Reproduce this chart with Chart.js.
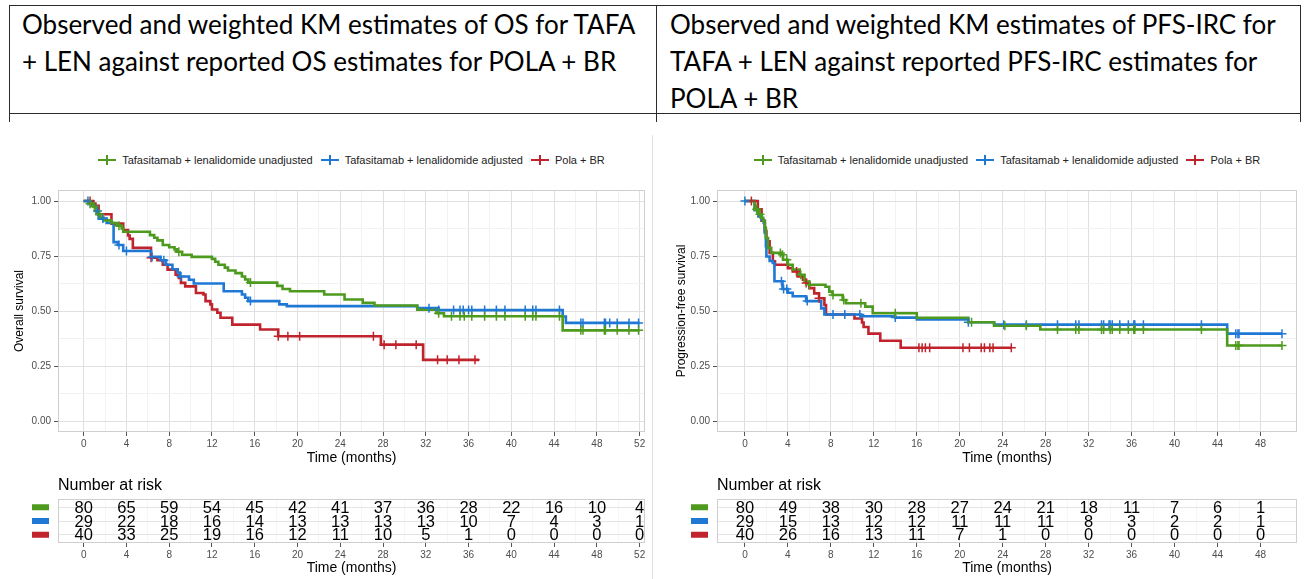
<!DOCTYPE html>
<html>
<head>
<meta charset="utf-8">
<script src="https://cdn.jsdelivr.net/npm/chart.js@4.4.0/dist/chart.umd.min.js"></script>
<style>
  body { margin: 0; width: 1309px; height: 579px; background: #fff; position: relative; overflow: hidden;
         font-family: "Liberation Sans", Arial, sans-serif; }
  .ln { position: absolute; background: #2b2b2b; }
  .hd { position: absolute; top: 6px; font-family: Lato, "Open Sans", sans-serif; font-size: 26px;
        line-height: 37px; color: #000; white-space: nowrap; }
  canvas { position: absolute; }
  .legend { position: absolute; top: 153px; height: 14px; display: flex; justify-content: center;
            align-items: center; font-size: 11px; color: #222; white-space: nowrap; }
  .legend .item { display: flex; align-items: center; margin: 0 4px; }
  .legend .key { position: relative; width: 18px; height: 12px; margin-right: 6px; }
  .legend .key i { position: absolute; display: block; }
  .sep { position: absolute; left: 652px; top: 135px; width: 1px; height: 444px; background: #e2e2e2; }
</style>
</head>
<body>
<!-- header table -->
<div class="ln" style="left:9px;top:5px;width:1292px;height:1px"></div>
<div class="ln" style="left:9px;top:113px;width:1292px;height:1px"></div>
<div class="ln" style="left:9px;top:5px;width:1px;height:117px"></div>
<div class="ln" style="left:656px;top:5px;width:1px;height:117px"></div>
<div class="ln" style="left:1300px;top:5px;width:1px;height:117px"></div>
<div class="hd" style="left:22px">Observed and weighted KM estimates of OS for TAFA<br>+ LEN against reported OS estimates for POLA + BR</div>
<div class="hd" style="left:670px">Observed and weighted KM estimates of PFS-IRC for<br>TAFA + LEN against reported PFS-IRC estimates for<br>POLA + BR</div>
<div class="sep"></div>

<div class="legend" id="legendOS" style="left:58px;width:587px"></div>
<div class="legend" id="legendPFS" style="left:717px;width:580px"></div>

<canvas id="osChart" width="652" height="330" style="left:0;top:140px"></canvas>
<canvas id="osRisk" width="652" height="107" style="left:0;top:472px"></canvas>
<canvas id="pfsChart" width="645" height="330" style="left:660px;top:140px"></canvas>
<canvas id="pfsRisk" width="645" height="107" style="left:660px;top:472px"></canvas>

<script>
// series names and colours
const seriesNames = ['Tafasitamab + lenalidomide unadjusted', 'Tafasitamab + lenalidomide adjusted', 'Pola + BR'];
const seriesColors = ['#4e9a1e', '#1f78d4', '#c0232c'];

// ---- OS (left) ----
const osTimeUnadj = [0, 0.6, 0.9, 1.1, 1.2, 1.55, 1.85, 2.6, 3.1, 3.55, 3.7, 6.2, 6.6, 6.9, 7.4, 8.0, 8.5, 8.7, 9.2, 10.1, 12.0, 12.3, 12.6, 13.2, 13.5, 14.2, 14.8, 15.1, 15.4, 18.1, 18.6, 19.3, 22.5, 24.4, 26.1, 27.2, 31.2, 33.0, 33.7, 44.8, 52.0];
const osSurvUnadj = [1, 0.988, 0.975, 0.96, 0.94, 0.925, 0.912, 0.9, 0.888, 0.875, 0.86, 0.845, 0.833, 0.821, 0.8, 0.79, 0.78, 0.769, 0.756, 0.746, 0.737, 0.724, 0.71, 0.697, 0.684, 0.672, 0.657, 0.643, 0.629, 0.614, 0.6, 0.59, 0.575, 0.552, 0.537, 0.525, 0.506, 0.49, 0.476, 0.412, 0.412];
const osCensorUnadj = [0.6, 1.0, 1.5, 3.3, 8.9, 15.6, 33.2, 34.4, 35.2, 35.6, 36.3, 37.5, 38.6, 39.4, 41.3, 42.0, 42.3, 44.5, 46.5, 46.7, 48.7, 48.8, 49.9, 51.0, 51.9];

const osTimeAdj = [0, 0.5, 0.8, 1.1, 1.4, 2.15, 2.8, 3.2, 3.7, 6.3, 7.2, 7.7, 8.3, 8.8, 9.0, 9.85, 10.3, 13.1, 14.8, 15.1, 15.4, 18.3, 19.0, 31.2, 33.2, 44.8, 45.1, 52.0];
const osSurvAdj = [1, 0.99, 0.978, 0.955, 0.92, 0.9, 0.813, 0.8, 0.773, 0.746, 0.731, 0.71, 0.69, 0.675, 0.657, 0.642, 0.625, 0.59, 0.575, 0.56, 0.545, 0.53, 0.522, 0.513, 0.504, 0.475, 0.446, 0.446];
const osCensorAdj = [0.4, 1.3, 1.8, 3.3, 4.0, 6.4, 7.5, 9.1, 15.6, 32.3, 33.2, 34.6, 35.2, 35.5, 36.0, 36.3, 37.5, 38.6, 39.4, 41.3, 42.0, 42.3, 44.5, 46.5, 46.7, 48.7, 48.8, 49.2, 49.9, 51.0, 51.9];

const osTimePola = [0, 0.9, 1.1, 1.4, 2.6, 3.7, 4.15, 4.3, 4.6, 6.3, 6.9, 7.4, 7.85, 8.6, 8.9, 9.1, 9.5, 10.5, 11.2, 11.4, 11.85, 12.0, 12.5, 12.8, 13.9, 16.5, 18.2, 27.8, 31.75, 37.0];
const osSurvPola = [1, 0.988, 0.978, 0.94, 0.897, 0.868, 0.843, 0.828, 0.787, 0.742, 0.731, 0.71, 0.688, 0.665, 0.65, 0.628, 0.612, 0.582, 0.575, 0.545, 0.53, 0.507, 0.492, 0.469, 0.438, 0.416, 0.385, 0.347, 0.278, 0.278];
const osCensorPola = [0.6, 6.3, 18.2, 19.1, 20.2, 27.1, 28.1, 29.2, 31.1, 33.1, 34.0, 35.1, 36.6];

const osXTicks = [0, 4, 8, 12, 16, 20, 24, 28, 32, 36, 40, 44, 48, 52];
const osRiskUnadj = [80, 65, 59, 54, 45, 42, 41, 37, 36, 28, 22, 16, 10, 4];
const osRiskAdj = [29, 22, 18, 16, 14, 13, 13, 13, 13, 10, 7, 4, 3, 1];
const osRiskPola = [40, 33, 25, 19, 16, 12, 11, 10, 5, 1, 0, 0, 0, 0];

// ---- PFS-IRC (right) ----
const pfsTimeUnadj = [0, 0.9, 1.25, 1.55, 1.7, 1.85, 1.95, 2.15, 2.45, 3.4, 3.55, 4.0, 4.45, 5.1, 5.55, 6.0, 7.5, 7.85, 8.15, 9.1, 9.4, 11.2, 11.9, 16.0, 20.8, 23.2, 27.5, 44.9, 50.0];
const pfsSurvUnadj = [1, 0.962, 0.94, 0.924, 0.909, 0.878, 0.832, 0.787, 0.764, 0.756, 0.733, 0.71, 0.688, 0.665, 0.634, 0.619, 0.61, 0.588, 0.573, 0.55, 0.535, 0.52, 0.49, 0.469, 0.449, 0.433, 0.416, 0.343, 0.343];
const pfsCensorUnadj = [1.1, 1.4, 3.3, 3.5, 3.9, 5.2, 6.0, 8.2, 9.2, 10.8, 14.0, 21.1, 24.2, 26.2, 29.1, 30.8, 31.1, 33.2, 33.4, 34.0, 34.2, 34.9, 35.7, 36.2, 36.3, 37.1, 42.5, 45.7, 45.9, 46.0, 50.0];

const pfsTimeAdj = [0, 0.9, 1.25, 1.55, 1.75, 1.85, 1.95, 2.0, 2.3, 2.6, 2.75, 3.5, 4.0, 4.45, 5.7, 7.1, 7.4, 10.8, 14.0, 16.0, 20.8, 23.2, 44.9, 50.0];
const pfsSurvAdj = [1, 0.958, 0.93, 0.915, 0.9, 0.855, 0.795, 0.748, 0.727, 0.718, 0.635, 0.6, 0.583, 0.567, 0.545, 0.512, 0.484, 0.476, 0.47, 0.462, 0.449, 0.438, 0.397, 0.397];
const pfsCensorAdj = [0, 3.4, 3.6, 3.9, 5.8, 8.2, 9.3, 10.7, 14.0, 20.8, 24.1, 26.2, 29.1, 30.8, 31.1, 33.2, 33.4, 33.9, 34.0, 34.2, 34.9, 35.7, 36.2, 36.3, 37.1, 42.5, 45.7, 45.9, 46.0, 50.0];

const pfsTimePola = [0, 1.2, 1.55, 1.85, 2.0, 2.3, 2.6, 2.8, 4.0, 4.45, 4.9, 5.4, 5.7, 6.0, 6.45, 6.9, 7.4, 7.55, 10.2, 10.9, 11.05, 11.5, 12.6, 14.5, 24.8];
const pfsSurvPola = [1, 0.962, 0.91, 0.863, 0.817, 0.764, 0.726, 0.71, 0.695, 0.68, 0.657, 0.642, 0.627, 0.604, 0.58, 0.558, 0.527, 0.484, 0.466, 0.448, 0.427, 0.397, 0.365, 0.333, 0.333];
const pfsCensorPola = [0.6, 4.8, 5.7, 6.9, 16.2, 16.5, 16.8, 17.2, 20.3, 20.9, 22.0, 22.3, 22.8, 23.1, 24.8];

const pfsXTicks = [0, 4, 8, 12, 16, 20, 24, 28, 32, 36, 40, 44, 48];
const pfsRiskUnadj = [80, 49, 38, 30, 28, 27, 24, 21, 18, 11, 7, 6, 1];
const pfsRiskAdj = [29, 15, 13, 12, 12, 11, 11, 11, 8, 3, 2, 2, 1];
const pfsRiskPola = [40, 26, 16, 13, 11, 7, 1, 0, 0, 0, 0, 0, 0];

const yTicks = [0, 0.25, 0.5, 0.75, 1];

Chart.defaults.font.family = "'Liberation Sans', Arial, sans-serif";
Chart.defaults.animation = false;

// value of a KM step curve at time t
function survAt(times, surv, t) {
    let s = surv[0];
    for (let i = 0; i < times.length; i++) {
        if (times[i] <= t) s = surv[i];
    }
    return s;
}

// majors plus the half-way minors (ggplot style grid)
function withMinors(majors) {
    const out = [];
    majors.forEach((v, i) => {
        out.push(v);
        if (i < majors.length - 1) out.push((v + majors[i + 1]) / 2);
    });
    return out;
}

const panelBorder = {
    id: 'panelBorder',
    afterDraw(chart) {
        const a = chart.chartArea, ctx = chart.ctx;
        ctx.save();
        ctx.strokeStyle = '#cfcfcf';
        ctx.lineWidth = 1;
        ctx.strokeRect(a.left + 0.5, a.top + 0.5, a.right - a.left - 1, a.bottom - a.top - 1);
        ctx.restore();
    }
};

function xScale(ticksArr, min, max, gridMajor, gridMinor, titlePad) {
    const all = withMinors(ticksArr);
    return {
        type: 'linear', min: min, max: max,
        afterBuildTicks: s => { s.ticks = all.map(v => ({ value: v })); },
        ticks: {
            autoSkip: false, maxRotation: 0, padding: 2, color: '#4d4d4d', font: { size: 10 },
            callback: v => ticksArr.includes(v) ? String(v) : ''
        },
        grid: {
            color: c => (c.tick && ticksArr.includes(c.tick.value)) ? gridMajor : gridMinor,
            tickColor: c => (c.tick && ticksArr.includes(c.tick.value)) ? '#555' : 'rgba(0,0,0,0)',
            tickLength: 4
        },
        border: { display: false },
        title: { display: true, text: 'Time (months)', color: '#000', font: { size: 14 }, padding: { top: 0, bottom: titlePad } }
    };
}

function buildKm(id, curves, xTicks, xMin, xMax, yWidth, yTitle, yTitlePad, padRight) {
    const datasets = [];
    curves.forEach((c, k) => {
        datasets.push({
            data: c.times.map((t, i) => ({ x: t, y: c.surv[i] })),
            showLine: true, stepped: 'before', borderColor: seriesColors[k], borderWidth: 2.6,
            pointRadius: 0, order: 2 + k
        });
    });
    curves.forEach((c, k) => {
        datasets.push({
            data: c.censor.map(t => ({ x: t, y: survAt(c.times, c.surv, t) })),
            pointStyle: 'cross', pointRadius: 4.5, borderColor: seriesColors[k], borderWidth: 1.5,
            order: 1
        });
    });
    const yAll = withMinors(yTicks);
    return new Chart(document.getElementById(id), {
        type: 'scatter',
        data: { datasets: datasets },
        options: {
            responsive: false,
            animation: false,
            events: [],
            layout: { padding: { top: 50, right: padRight, left: 0, bottom: 0 } },
            plugins: { legend: { display: false }, tooltip: { enabled: false } },
            scales: {
                x: Object.assign(xScale(xTicks, xMin, xMax, '#e0e0e0', '#f2f2f2', 3), {
                    afterFit: s => { s.height = 38; }
                }),
                y: {
                    type: 'linear', min: -0.05, max: 1.05,
                    afterBuildTicks: s => { s.ticks = yAll.map(v => ({ value: v })); },
                    afterFit: s => { s.width = yWidth; },
                    ticks: {
                        autoSkip: false, padding: 3, color: '#4d4d4d', font: { size: 10 },
                        callback: v => yTicks.includes(v) ? v.toFixed(2) : ''
                    },
                    grid: {
                        color: c => (c.tick && yTicks.includes(c.tick.value)) ? '#e0e0e0' : '#f2f2f2',
                        tickColor: c => (c.tick && yTicks.includes(c.tick.value)) ? '#555' : 'rgba(0,0,0,0)',
                        tickLength: 4
                    },
                    border: { display: false },
                    title: { display: true, text: yTitle, color: '#000', font: { size: 12 }, padding: { top: yTitlePad, bottom: 0 } }
                }
            }
        },
        plugins: [panelBorder]
    });
}

// numbers at risk + coloured row keys + heading
const riskText = {
    id: 'riskText',
    afterDatasetsDraw(chart) {
        const ctx = chart.ctx, a = chart.chartArea;
        ctx.save();
        ctx.fillStyle = '#000';
        ctx.font = "16px 'Liberation Sans', Arial, sans-serif";
        ctx.textAlign = 'left';
        ctx.textBaseline = 'middle';
        ctx.fillText('Number at risk', a.left, a.top - 13);
        ctx.font = "16.5px 'Liberation Sans', Arial, sans-serif";
        ctx.textAlign = 'center';
        chart.data.datasets.forEach((ds, i) => {
            const meta = chart.getDatasetMeta(i);
            meta.data.forEach((el, j) => {
                ctx.fillStyle = '#000';
                ctx.fillText(String(ds.counts[j]), el.x, el.y + 1);
            });
            const yPix = chart.scales.y.getPixelForValue(ds.row);
            ctx.fillStyle = seriesColors[i];
            ctx.fillRect(a.left - 26, yPix - 3, 17, 6);
        });
        ctx.restore();
    }
};

function buildRisk(id, rows, xTicks, xMin, xMax, yWidth, padRight) {
    const rowPos = [3, 2, 1];
    const datasets = rows.map((counts, k) => ({
        data: xTicks.map(t => ({ x: t, y: rowPos[k] })),
        counts: counts, row: rowPos[k], pointRadius: 0
    }));
    return new Chart(document.getElementById(id), {
        type: 'scatter',
        data: { datasets: datasets },
        options: {
            responsive: false,
            animation: false,
            events: [],
            layout: { padding: { top: 27, right: padRight, left: 0, bottom: 0 } },
            plugins: { legend: { display: false }, tooltip: { enabled: false } },
            scales: {
                x: Object.assign(xScale(xTicks, xMin, xMax, '#ececec', '#f6f6f6', 2), {
                    afterFit: s => { s.height = 36; }
                }),
                y: {
                    type: 'linear', min: 0.4, max: 3.6,
                    afterBuildTicks: s => { s.ticks = rowPos.map(v => ({ value: v })); },
                    afterFit: s => { s.width = yWidth; },
                    ticks: { display: false },
                    grid: { color: '#e4e4e4', drawTicks: false },
                    border: { display: false }
                }
            }
        },
        plugins: [panelBorder, riskText]
    });
}

function buildLegend(id) {
    const box = document.getElementById(id);
    seriesNames.forEach((name, k) => {
        const item = document.createElement('div');
        item.className = 'item';
        const key = document.createElement('span');
        key.className = 'key';
        key.innerHTML = '<i style="left:0;top:5px;width:18px;height:2px;background:' + seriesColors[k] + '"></i>' +
                        '<i style="left:8px;top:1px;width:2px;height:10px;background:' + seriesColors[k] + '"></i>';
        item.appendChild(key);
        item.appendChild(document.createTextNode(name));
        box.appendChild(item);
    });
}

buildLegend('legendOS');
buildLegend('legendPFS');

buildKm('osChart', [
    { times: osTimeUnadj, surv: osSurvUnadj, censor: osCensorUnadj },
    { times: osTimeAdj, surv: osSurvAdj, censor: osCensorAdj },
    { times: osTimePola, surv: osSurvPola, censor: osCensorPola }
], osXTicks, -2.4, 52.5, 58, 'Overall survival', 12, 7);

buildRisk('osRisk', [osRiskUnadj, osRiskAdj, osRiskPola], osXTicks, -2.4, 52.5, 58, 7);

buildKm('pfsChart', [
    { times: pfsTimeUnadj, surv: pfsSurvUnadj, censor: pfsCensorUnadj },
    { times: pfsTimeAdj, surv: pfsSurvAdj, censor: pfsCensorAdj },
    { times: pfsTimePola, surv: pfsSurvPola, censor: pfsCensorPola }
], pfsXTicks, -2.6, 51.4, 57, 'Progression-free survival', 14, 8);

buildRisk('pfsRisk', [pfsRiskUnadj, pfsRiskAdj, pfsRiskPola], pfsXTicks, -2.6, 51.4, 57, 8);
</script>
</body>
</html>
